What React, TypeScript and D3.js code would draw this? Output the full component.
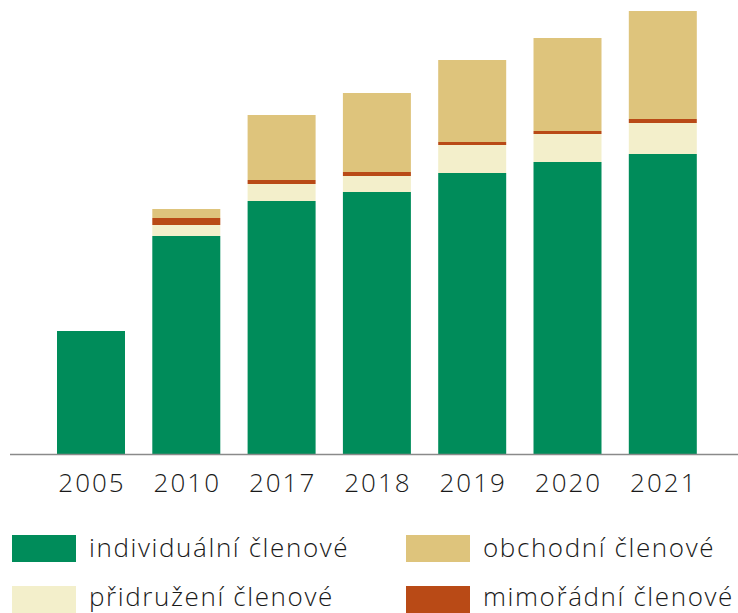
import React from "react";
import * as d3 from "d3";

const years = ["2005", "2010", "2017", "2018", "2019", "2020", "2021"];
const individualni = [123, 218, 253, 262, 281, 292, 300];
const pridruzeni = [0, 11, 17, 16, 28, 28, 31];
const mimoradni = [0, 7, 4, 4, 3, 3, 4];
const obchodni = [0, 9, 65, 79, 82, 93, 108];

const seriesKeys = ["individualni", "pridruzeni", "mimoradni", "obchodni"];
const seriesColors = ["#008C5A", "#F3EFCB", "#B94A16", "#DEC47C"];
const legendItems = [
  { label: "individuální členové", color: "#008C5A" },
  { label: "obchodní členové", color: "#DEC47C" },
  { label: "přidružení členové", color: "#F3EFCB" },
  { label: "mimořádní členové", color: "#B94A16" },
];

const W = 738;
const H = 613;
const FONT = "'Open Sans', sans-serif";

export default function App() {
  const rows = years.map((y, i) => ({
    year: y,
    individualni: individualni[i],
    pridruzeni: pridruzeni[i],
    mimoradni: mimoradni[i],
    obchodni: obchodni[i],
  }));
  const stack = d3.stack<any>().keys(seriesKeys);
  const stacked = stack(rows);

  const x = d3.scaleBand().domain(years).range([57, 696.8]).paddingInner(0.2865).paddingOuter(0);
  const y = d3.scaleLinear().domain([0, 443]).range([454, 11]);

  return (
    <svg width={W} height={H} style={{ position: "absolute", left: 0, top: 0 }}>
      {stacked.map((s, si) => (
        <g key={si} fill={seriesColors[si]}>
          {s.map((d, i) =>
            d[1] - d[0] > 0 ? (
              <rect
                key={i}
                x={x(years[i])}
                y={y(d[1])}
                width={x.bandwidth()}
                height={y(d[0]) - y(d[1])}
              />
            ) : null
          )}
        </g>
      ))}
      <line x1={10} x2={738} y1={454.5} y2={454.5} stroke="#8a8a8a" strokeWidth={1.5} />
      {years.map((yr) => (
        <text
          key={yr}
          x={(x(yr) as number) + x.bandwidth() / 2 + 1}
          y={492}
          textAnchor="middle"
          fontFamily={FONT}
          fontWeight={300}
          fontSize={26}
          letterSpacing={2}
          fill="#1a1a1a"
        >
          {yr}
        </text>
      ))}
      {legendItems.map((it, i) => {
        const col = i % 2;
        const row = Math.floor(i / 2);
        const lx = col === 0 ? 12 : 406;
        const ly = row === 0 ? 535 : 586;
        return (
          <g key={it.label}>
            <rect x={lx} y={ly} width={64} height={27} fill={it.color} />
            <text
              x={lx + 77}
              y={row === 0 ? ly + 22 : ly + 20}
              fontFamily={FONT}
              fontWeight={300}
              fontSize={26}
              letterSpacing={1.6}
              fill="#1a1a1a"
            >
              {it.label}
            </text>
          </g>
        );
      })}
    </svg>
  );
}
